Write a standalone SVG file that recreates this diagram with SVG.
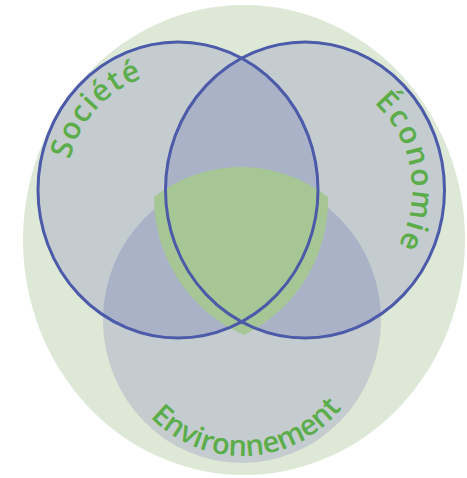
<svg xmlns="http://www.w3.org/2000/svg" width="467" height="478" viewBox="0 0 467 478">
  <style>
    .single { fill: #c4ccd0; }
    .double { fill: #a9b2c7; }
    .outline { fill: none; stroke: #4b5aa9; stroke-width: 3; }
    .label { font-family: "Open Sans", "Noto Sans", sans-serif; font-size: 30px; font-weight: 600; fill: #5aad48; }
  </style>
  <defs>
    <clipPath id="clipS"><ellipse cx="178" cy="190" rx="140" ry="148"/></clipPath>
    <clipPath id="clipE"><ellipse cx="305" cy="190" rx="139.5" ry="148"/></clipPath>
    <path id="pathS" d="M81.5,249.9 A112,118 0 0 1 233.1,87.3"/>
    <path id="pathE" d="M313.9,76.4 A107,114 0 0 1 350.6,293.1"/>
    <path id="pathV" d="M117.1,360.9 A131,136 0 0 0 369.9,349.4"/>
  </defs>
  <rect width="467" height="478" fill="#ffffff"/>
  <ellipse id="background" cx="244" cy="240" rx="221" ry="235" fill="#dde8d6"/>
  <g id="regions">
    <ellipse class="single" cx="178" cy="190" rx="140" ry="148"/>
    <ellipse class="single" cx="305" cy="190" rx="139.5" ry="148"/>
    <ellipse class="single" cx="242" cy="320" rx="139" ry="143"/>
    <ellipse class="double" cx="305" cy="190" rx="139.5" ry="148" clip-path="url(#clipS)"/>
    <ellipse class="double" cx="242" cy="320" rx="139" ry="143" clip-path="url(#clipS)"/>
    <ellipse class="double" cx="242" cy="320" rx="139" ry="143" clip-path="url(#clipE)"/>
  </g>
  <g id="center">
    <path d="M154,197 A141,141 0 0 1 328,197 A150,150 0 0 1 244,335 A150,150 0 0 1 154,197 Z" fill="#a6c795"/>
  </g>
  <g id="societe">
    <ellipse class="outline" cx="178" cy="190" rx="140" ry="148"/>
    <text class="label" letter-spacing="1.5"><textPath href="#pathS" startOffset="50%" text-anchor="middle">Société</textPath></text>
  </g>
  <g id="economie">
    <ellipse class="outline" cx="305" cy="190" rx="139.5" ry="148"/>
    <text class="label" letter-spacing="2"><textPath href="#pathE" startOffset="50%" text-anchor="middle">Économie</textPath></text>
  </g>
  <g id="environnement">
    <text class="label" style="font-size:29px"><textPath href="#pathV" startOffset="50%" text-anchor="middle">Environnement</textPath></text>
  </g>
</svg>
